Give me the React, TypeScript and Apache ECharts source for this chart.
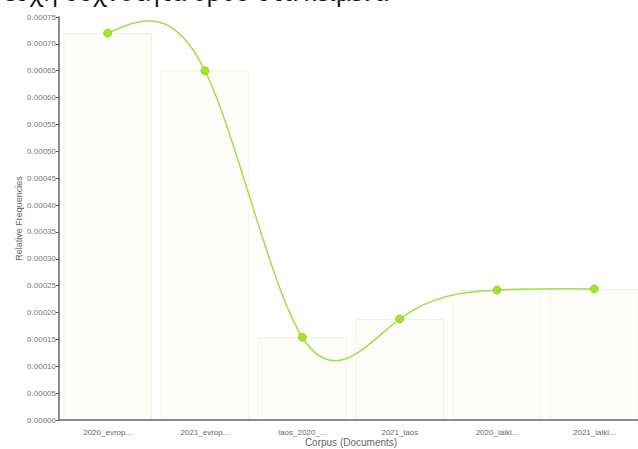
import React, { useEffect, useRef } from "react";
import * as echarts from "echarts";

const categories = ["2020_evrop...", "2021_evrop...", "laos_2020_...", "2021_laos", "2020_laiki...", "2021_laiki..."];
const values = [0.00072, 0.00065, 0.000154, 0.000188, 0.000242, 0.000244];
const yTicks = [0, 0.00005, 0.0001, 0.00015, 0.0002, 0.00025, 0.0003, 0.00035, 0.0004, 0.00045, 0.0005, 0.00055, 0.0006, 0.00065, 0.0007, 0.00075];

// natural cubic spline (second derivative zero at ends) through pixel points
function naturalPath(pts: number[][]): string {
  const n = pts.length - 1;
  const deriv = (vals: number[]) => {
    const M = new Array(n + 1).fill(0);
    if (n >= 2) {
      const cp: number[] = [];
      const dp: number[] = [];
      for (let i = 1; i < n; i++) {
        const d = 6 * (vals[i + 1] - 2 * vals[i] + vals[i - 1]);
        if (i === 1) {
          cp[i] = 1 / 4;
          dp[i] = d / 4;
        } else {
          const den = 4 - cp[i - 1];
          cp[i] = 1 / den;
          dp[i] = (d - dp[i - 1]) / den;
        }
      }
      for (let i = n - 1; i >= 1; i--) {
        M[i] = dp[i] - (i < n - 1 ? cp[i] * M[i + 1] : 0);
      }
    }
    const m: number[] = [];
    for (let i = 0; i < n; i++) m[i] = vals[i + 1] - vals[i] - (2 * M[i] + M[i + 1]) / 6;
    m[n] = vals[n] - vals[n - 1] + (M[n - 1] + 2 * M[n]) / 6;
    return m;
  };
  const xs = pts.map((p) => p[0]);
  const ys = pts.map((p) => p[1]);
  const mx = deriv(xs);
  const my = deriv(ys);
  let d = `M${xs[0]},${ys[0]}`;
  for (let i = 0; i < n; i++) {
    d += ` C${xs[i] + mx[i] / 3},${ys[i] + my[i] / 3} ${xs[i + 1] - mx[i + 1] / 3},${ys[i + 1] - my[i + 1] / 3} ${xs[i + 1]},${ys[i + 1]}`;
  }
  return d;
}

export default function App() {
  const ref = useRef<HTMLDivElement>(null);
  useEffect(() => {
    const chart = echarts.init(ref.current!, null, { renderer: "svg" });
    chart.setOption({
      animation: false,
      backgroundColor: "#ffffff",
      graphic: [
        {
          type: "text",
          left: 4,
          top: -21,
          style: { text: "ευχή συχνότητα όρου στα κείμενα", font: "24px 'Noto Sans'", fill: "#111" },
        },
      ],
      grid: {
        left: 59,
        width: 584,
        top: 17,
        bottom: 29,
        containLabel: false,
        outerBoundsMode: "none",
      },
      xAxis: {
        type: "category",
        z: 10,
        data: categories,
        name: "Corpus (Documents)",
        nameLocation: "middle",
        nameGap: 17,
        nameMoveOverlap: false,
        nameTextStyle: { fontFamily: "Liberation Sans", fontSize: 10, color: "#666" },
        axisLine: { lineStyle: { color: "#666", width: 1.5 } },
        axisTick: { alignWithLabel: true, length: 4, lineStyle: { color: "#555" } },
        axisLabel: { fontFamily: "Liberation Sans", fontSize: 8, color: "#666", margin: 8 },
      },
      yAxis: {
        type: "value",
        z: 10,
        min: 0,
        max: 0.00075,
        interval: 0.00005,
        name: "Relative Frequencies",
        nameLocation: "middle",
        nameGap: 36,
        nameMoveOverlap: false,
        nameTextStyle: { fontFamily: "Liberation Sans", fontSize: 9, color: "#666" },
        axisLine: { show: true, lineStyle: { color: "#666", width: 1.5 } },
        axisTick: { show: true, length: 3, lineStyle: { color: "#555" } },
        splitLine: { show: false },
        axisLabel: {
          fontFamily: "Liberation Sans",
          fontSize: 8,
          color: "#777",
          margin: 3,
          formatter: (v: number) => {
            const i = yTicks.findIndex((t) => Math.abs(t - v) < 1e-10);
            return (i >= 0 ? yTicks[i] : v).toFixed(5);
          },
        },
      },
      series: [
        {
          type: "bar",
          z: 1,
          data: values,
          barWidth: "91%",
          itemStyle: { color: "#fdfdf9", borderColor: "#eef5dc", borderWidth: 1 },
          silent: true,
        },
        {
          type: "custom",
          z: 5,
          data: values.map((v, i) => [i, v]),
          clip: false,
          silent: true,
          renderItem: (params: any, api: any) => {
            if (params.dataIndex !== 0) return null;
            const pts = values.map((v, i) => api.coord([i, v]));
            return {
              type: "path",
              shape: { pathData: naturalPath(pts) },
              style: { fill: "none", stroke: "#a6dc45", lineWidth: 1.5 },
            };
          },
        },
        {
          type: "scatter",
          z: 6,
          data: values,
          symbol: "circle",
          symbolSize: 8,
          itemStyle: { color: "#a8e22e", borderColor: "#9ad22a", borderWidth: 1, opacity: 1 },
        },
      ],
    });
    return () => chart.dispose();
  }, []);
  return (
    <div style={{ position: "absolute", left: 0, top: 0, width: 638, height: 449, overflow: "hidden" }}>
      <div ref={ref} style={{ width: 650, height: 449 }} />
    </div>
  );
}
